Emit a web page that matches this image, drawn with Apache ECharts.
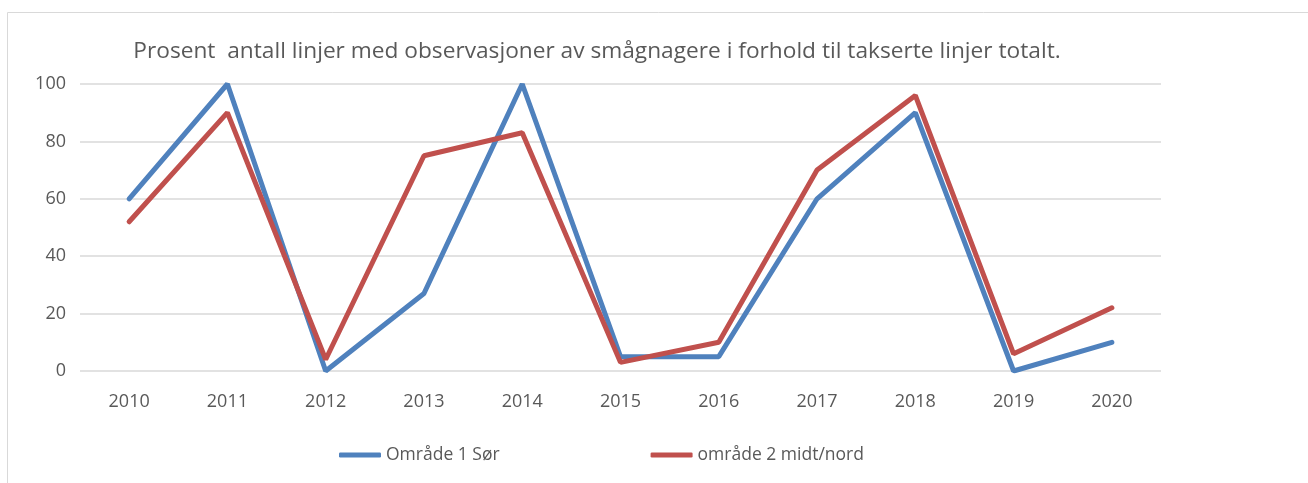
<!DOCTYPE html>
<html>
<head>
<meta charset="utf-8">
<script src="https://cdn.jsdelivr.net/npm/echarts@6/dist/echarts.min.js"></script>
<style>
html,body{margin:0;padding:0;background:#fff;}
#chart{width:1308px;height:483px;}
</style>
</head>
<body>
<div id="chart"></div>
<script>
var years = ['2010','2011','2012','2013','2014','2015','2016','2017','2018','2019','2020'];
var sor = [60, 100, 0, 27, 100, 5, 5, 60, 90, 0, 10];
var midtNord = [52, 90, 4, 75, 83, 3, 10, 70, 96, 6, 22];
var yTicks = [0, 20, 40, 60, 80, 100];

var chart = echarts.init(document.getElementById('chart'));
var font = 'Open Sans';
chart.setOption({
    animation: false,
    graphic: [{
        type: 'rect',
        shape: {x: 7.5, y: 12.5, width: 1320, height: 500},
        style: {fill: 'none', stroke: '#d9d9d9', lineWidth: 1},
        silent: true
    }],
    title: {
        text: 'Prosent  antall linjer med observasjoner av smågnagere i forhold til takserte linjer totalt.',
        left: 592,
        textAlign: 'center',
        top: 35,
        textStyle: {fontFamily: font, fontSize: 22.7, fontWeight: 'normal', color: '#595959'}
    },
    legend: {
        bottom: 14,
        left: 334,
        itemWidth: 42,
        itemHeight: 5,
        itemGap: 151,
        icon: 'roundRect',
        textStyle: {fontFamily: font, fontSize: 17.5, color: '#595959'},
        data: ['Område 1 Sør', 'område 2 midt/nord']
    },
    grid: {left: 80, right: 147, top: 84, bottom: 112},
    xAxis: {
        type: 'category',
        data: years,
        boundaryGap: true,
        axisLine: {show: false},
        axisTick: {show: false},
        axisLabel: {fontFamily: font, fontSize: 18, color: '#595959', margin: 22}
    },
    yAxis: {
        type: 'value',
        min: yTicks[0],
        max: yTicks[yTicks.length - 1],
        interval: 20,
        axisLine: {show: false},
        axisTick: {show: false},
        splitLine: {lineStyle: {color: '#d9d9d9', width: 1.5}},
        axisLabel: {fontFamily: font, fontSize: 18, color: '#595959', margin: 14}
    },
    series: [{
        name: 'Område 1 Sør',
        type: 'line',
        data: sor,
        symbol: 'none',
        color: '#4f81bd',
        lineStyle: {width: 5, color: '#4f81bd', cap: 'round'}
    }, {
        name: 'område 2 midt/nord',
        type: 'line',
        data: midtNord,
        symbol: 'none',
        color: '#c0504d',
        lineStyle: {width: 5, color: '#c0504d', cap: 'round'}
    }]
});
</script>
</body>
</html>
